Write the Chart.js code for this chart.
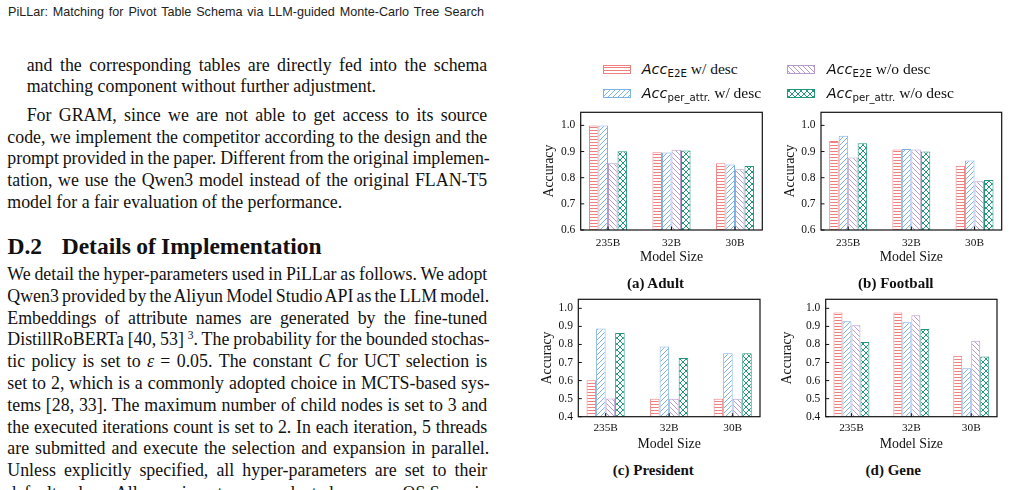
<!DOCTYPE html>
<html><head><meta charset="utf-8">
<script src="https://cdn.jsdelivr.net/npm/chart.js@4.4.0/dist/chart.umd.min.js"></script>
<style>
html,body{margin:0;padding:0;background:#fff;}
body{width:1009px;height:490px;overflow:hidden;position:relative;color:#111;}
.hdr{position:absolute;left:8px;top:5.5px;font-family:"Liberation Sans",sans-serif;font-size:12.6px;line-height:12px;white-space:nowrap;color:#222}
.ln{position:absolute;font-family:"Liberation Serif",serif;font-size:17.85px;line-height:22px;white-space:nowrap}
.ln sup{font-size:11.5px;line-height:0;vertical-align:6px}
.h2{position:absolute;font-family:"Liberation Serif",serif;font-weight:bold;font-size:23.5px;line-height:22px;white-space:nowrap}
.cap{position:absolute;font-family:"Liberation Serif",serif;font-weight:bold;font-size:15px;line-height:16px;transform:translate(-50%,-50%);white-space:nowrap}
.leg{position:absolute;font-family:"Liberation Serif",serif;font-size:15.5px;white-space:nowrap;line-height:20px}
.leg i{font-family:"DejaVu Sans",sans-serif;font-style:oblique;font-size:14.5px}
.leg sub{font-family:"DejaVu Sans",sans-serif;font-size:10.2px;vertical-align:-3px;line-height:0}
canvas.c,canvas.sw{position:absolute}
</style></head><body>
<div class="hdr" data-w="476">PiLLar: Matching for Pivot Table Schema via LLM-guided Monte-Carlo Tree Search</div>

<div class="ln" style="left:26.7px;top:53.7px" data-w="460.6">and the corresponding tables are directly fed into the schema</div>
<div class="ln" style="left:26.7px;top:75.3px">matching component without further adjustment.</div>
<div class="ln" style="left:26.7px;top:103.7px" data-w="460.6">For GRAM, since we are not able to get access to its source</div>
<div class="ln" style="left:7.3px;top:125.7px" data-w="480">code, we implement the competitor according to the design and the</div>
<div class="ln" style="left:7.3px;top:147.3px" data-w="482.5">prompt provided in the paper. Different from the original implemen-</div>
<div class="ln" style="left:7.3px;top:169px" data-w="480">tation, we use the Qwen3 model instead of the original FLAN-T5</div>
<div class="ln" style="left:7.3px;top:190.7px">model for a fair evaluation of the performance.</div>

<div class="h2" style="left:7.5px;top:234.6px">D.2</div>
<div class="h2" style="left:61.7px;top:234.6px" data-w="260">Details of Implementation</div>

<div class="ln" style="left:7.3px;top:263px" data-w="480">We detail the hyper-parameters used in PiLLar as follows. We adopt</div>
<div class="ln" style="left:7.3px;top:284.8px" data-w="482">Qwen3 provided by the Aliyun Model Studio API as the LLM model.</div>
<div class="ln" style="left:7.3px;top:306.6px" data-w="480">Embeddings of attribute names are generated by the fine-tuned</div>
<div class="ln" style="left:7.3px;top:328.4px" data-w="482.5">DistillRoBERTa [40, 53] <sup>3</sup>. The probability for the bounded stochas-</div>
<div class="ln" style="left:7.3px;top:350.2px" data-w="480">tic policy is set to <i>ε</i> = 0.05. The constant <i>C</i> for UCT selection is</div>
<div class="ln" style="left:7.3px;top:372px" data-w="482.5">set to 2, which is a commonly adopted choice in MCTS-based sys-</div>
<div class="ln" style="left:7.3px;top:393.8px" data-w="480">tems [28, 33]. The maximum number of child nodes is set to 3 and</div>
<div class="ln" style="left:7.3px;top:415.6px" data-w="480">the executed iterations count is set to 2. In each iteration, 5 threads</div>
<div class="ln" style="left:7.3px;top:437.4px" data-w="482">are submitted and execute the selection and expansion in parallel.</div>
<div class="ln" style="left:7.3px;top:459.2px" data-w="480">Unless explicitly specified, all hyper-parameters are set to their</div>
<div class="ln" style="left:7.3px;top:481.5px" data-w="480">default values. All experiments are conducted on a macOS Sequoia</div>

<canvas class="sw" id="sw0" width="30" height="11" style="left:601.5px;top:63.5px"></canvas>
<canvas class="sw" id="sw1" width="30" height="11" style="left:601.5px;top:87.5px"></canvas>
<canvas class="sw" id="sw2" width="30" height="11" style="left:785.5px;top:63.5px"></canvas>
<canvas class="sw" id="sw3" width="30" height="11" style="left:785.5px;top:87.5px"></canvas>
<div class="leg" style="left:641.7px;top:59px"><i>Acc</i><sub>E2E</sub> w/ desc</div>
<div class="leg" style="left:641.7px;top:83px"><i>Acc</i><sub>per_attr.</sub> w/ desc</div>
<div class="leg" style="left:826.7px;top:59px"><i>Acc</i><sub>E2E</sub> w/o desc</div>
<div class="leg" style="left:826.7px;top:83px"><i>Acc</i><sub>per_attr.</sub> w/o desc</div>

<canvas class="c" id="ca" width="240" height="170" style="left:530px;top:100px"></canvas>
<canvas class="c" id="cb" width="239" height="170" style="left:770px;top:100px"></canvas>
<canvas class="c" id="cc" width="240" height="170" style="left:530px;top:287px"></canvas>
<canvas class="c" id="cd" width="239" height="170" style="left:770px;top:287px"></canvas>

<div class="cap" style="left:655.5px;top:283.3px">(a) Adult</div>
<div class="cap" style="left:895.8px;top:283.3px">(b) Football</div>
<div class="cap" style="left:653.3px;top:470px">(c) President</div>
<div class="cap" style="left:893.3px;top:470px">(d) Gene</div>

<script>
// ---- data ----
const categories = ['235B', '32B', '30B'];
const seriesLabels = ['Acc_E2E w/ desc', 'Acc_per_attr. w/ desc', 'Acc_E2E w/o desc', 'Acc_per_attr. w/o desc'];

const adultE2EDesc      = [1.000, 0.897, 0.855];
const adultPerAttrDesc  = [1.000, 0.896, 0.850];
const adultE2ENoDesc    = [0.855, 0.907, 0.832];
const adultPerAttrNoDesc= [0.901, 0.904, 0.845];

const footballE2EDesc      = [0.940, 0.908, 0.846];
const footballPerAttrDesc  = [0.960, 0.910, 0.866];
const footballE2ENoDesc    = [0.877, 0.908, 0.786];
const footballPerAttrNoDesc= [0.932, 0.900, 0.791];

const presidentE2EDesc      = [0.602, 0.500, 0.500];
const presidentPerAttrDesc  = [0.888, 0.789, 0.751];
const presidentE2ENoDesc    = [0.501, 0.500, 0.500];
const presidentPerAttrNoDesc= [0.863, 0.725, 0.751];

const geneE2EDesc      = [0.977, 0.977, 0.738];
const genePerAttrDesc  = [0.928, 0.923, 0.668];
const geneE2ENoDesc    = [0.906, 0.962, 0.820];
const genePerAttrNoDesc= [0.814, 0.885, 0.733];

const ticksTopRow = [0.6, 0.7, 0.8, 0.9, 1.0];
const ticksBottomRow = [0.4, 0.5, 0.6, 0.7, 0.8, 0.9, 1.0];

// ---- styles ----
const colors = ['#EF8080', '#80B2EA', '#B99ACC', '#24957F'];
const kinds = ['h', 'f', 'b', 'x'];

function makeTile(kind, color) {
  const s = kind === 'h' ? 3 : (kind === 'x' ? 6 : 5);
  const c = document.createElement('canvas');
  c.width = s; c.height = s;
  const g = c.getContext('2d');
  g.fillStyle = '#fff'; g.fillRect(0, 0, s, s);
  g.strokeStyle = color; g.fillStyle = color; g.lineWidth = 1;
  const line = (x1, y1, x2, y2) => { g.beginPath(); g.moveTo(x1, y1); g.lineTo(x2, y2); g.stroke(); };
  if (kind === 'h') {
    g.fillRect(0, 0, s, 1);
  } else if (kind === 'f') {
    line(-1, s + 1, s + 1, -1); line(-1, 1, 1, -1); line(s - 1, s + 1, s + 1, s - 1);
  } else if (kind === 'b') {
    line(-1, -1, s + 1, s + 1); line(-1, s - 1, 1, s + 1); line(s - 1, -1, s + 1, 1);
  } else {
    line(-1, s + 1, s + 1, -1); line(-1, 1, 1, -1); line(s - 1, s + 1, s + 1, s - 1);
    line(-1, -1, s + 1, s + 1); line(-1, s - 1, 1, s + 1); line(s - 1, -1, s + 1, 1);
  }
  return c;
}
const patCtx = document.createElement('canvas').getContext('2d');
const patterns = kinds.map((k, j) => patCtx.createPattern(makeTile(k, colors[j]), 'repeat'));

// legend swatches
for (let j = 0; j < 4; j++) {
  const g = document.getElementById('sw' + j).getContext('2d');
  g.fillStyle = g.createPattern(makeTile(kinds[j], colors[j]), 'repeat');
  g.fillRect(1, 1, 28, 9);
  g.strokeStyle = colors[j]; g.lineWidth = 1;
  g.strokeRect(1.5, 1.5, 27, 8);
}

const framePlugin = {
  id: 'frame',
  afterDraw(chart) {
    const { ctx, chartArea: a, scales } = chart;
    ctx.save();
    ctx.strokeStyle = '#111';
    ctx.lineWidth = 1;
    scales.y.ticks.forEach((t, i) => {
      const y = scales.y.getPixelForTick(i);
      ctx.beginPath(); ctx.moveTo(a.left, y); ctx.lineTo(a.left + 3.5, y); ctx.stroke();
    });
    scales.x.ticks.forEach((t, i) => {
      const x = scales.x.getPixelForTick(i);
      ctx.beginPath(); ctx.moveTo(x, a.bottom); ctx.lineTo(x, a.bottom - 3.5); ctx.stroke();
    });
    ctx.lineWidth = 1.2;
    ctx.strokeRect(a.left, a.top, a.right - a.left, a.bottom - a.top);
    ctx.restore();
  }
};

function makeChart(id, series, yMin, yTicks, geom) {
  new Chart(document.getElementById(id), {
    type: 'bar',
    data: {
      datasets: series.map((vals, j) => ({
        label: seriesLabels[j],
        data: vals.map((v, i) => ({ x: i, y: v })),
        backgroundColor: patterns[j],
        borderColor: colors[j],
        borderWidth: 1,
        borderSkipped: 'start',
        base: yMin,
        clip: 0,
        categoryPercentage: 0.6,
        barPercentage: 1
      }))
    },
    options: {
      responsive: false, animation: false, devicePixelRatio: 1,
      layout: { padding: { left: 0, right: geom.pr, top: geom.pt, bottom: 0 } },
      plugins: { legend: { display: false }, tooltip: { enabled: false } },
      scales: {
        x: {
          type: 'linear', min: -0.43, max: 2.43, offset: false,
          grid: { display: false, drawTicks: false }, border: { display: false },
          afterBuildTicks: s => { s.ticks = categories.map((c, i) => ({ value: i })); },
          afterFit: s => { s.height = geom.xh; },
          ticks: { callback: v => categories[v], font: { family: 'Liberation Serif', size: 11.3 }, color: '#111', padding: geom.xp, maxRotation: 0, autoSkip: false },
          title: { display: true, text: 'Model Size', font: { family: 'Liberation Serif', size: 13.8 }, color: '#111', padding: { top: 0, bottom: geom.xtb } }
        },
        y: {
          min: yMin, max: 1.05, beginAtZero: false,
          grid: { display: false, drawTicks: false }, border: { display: false },
          afterBuildTicks: s => { s.ticks = yTicks.map(v => ({ value: v })); },
          afterFit: s => { s.width = geom.yw; },
          ticks: { callback: v => v.toFixed(1), font: { family: 'Liberation Serif', size: 11.5 }, color: '#111', padding: 5.4 },
          title: { display: true, text: 'Accuracy', font: { family: 'Liberation Serif', size: 13.8 }, color: '#111', padding: { top: geom.ytp, bottom: 0 } }
        }
      }
    },
    plugins: [framePlugin]
  });
}

makeChart('ca', [adultE2EDesc, adultPerAttrDesc, adultE2ENoDesc, adultPerAttrNoDesc], 0.6, ticksTopRow,
  { pr: 7.7, pt: 10.3, xh: 40, yw: 50.7, xp: 6.2, xtb: 4.4, ytp: 10.9 });
makeChart('cb', [footballE2EDesc, footballPerAttrDesc, footballE2ENoDesc, footballPerAttrNoDesc], 0.6, ticksTopRow,
  { pr: 7.3, pt: 10.3, xh: 40, yw: 51, xp: 6.2, xtb: 4.4, ytp: 11.9 });
makeChart('cc', [presidentE2EDesc, presidentPerAttrDesc, presidentE2ENoDesc, presidentPerAttrNoDesc], 0.4, ticksBottomRow,
  { pr: 10, pt: 9.7, xh: 40.3, yw: 48.3, xp: 5, xtb: 4.6, ytp: 9.2 });
makeChart('cd', [geneE2EDesc, genePerAttrDesc, geneE2ENoDesc, genePerAttrNoDesc], 0.4, ticksBottomRow,
  { pr: 12, pt: 9.7, xh: 40.3, yw: 55.7, xp: 5, xtb: 4.6, ytp: 8.6 });

// justify text lines to their measured widths
document.querySelectorAll('[data-w]').forEach(el => {
  const target = parseFloat(el.dataset.w);
  const nat = el.getBoundingClientRect().width;
  const spaces = (el.textContent.match(/ /g) || []).length;
  if (spaces > 0) el.style.wordSpacing = ((target - nat) / spaces).toFixed(3) + 'px';
});
</script>
</body></html>
